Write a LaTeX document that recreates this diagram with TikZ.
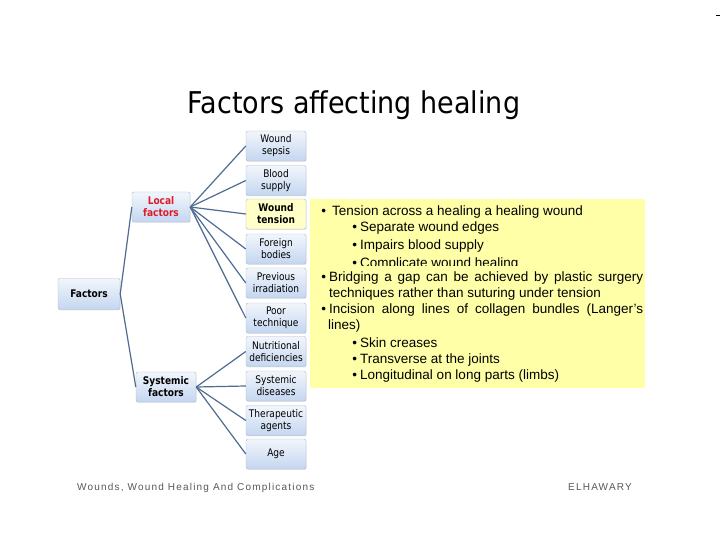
\documentclass[tikz,border=0pt]{standalone}
\usepackage{fontspec}
\setmainfont{DejaVu Sans}
\newfontfamily\titlefont[FakeStretch=0.9]{DejaVu Sans}
\newfontfamily\boxfont[FakeStretch=0.86]{DejaVu Sans}
\newfontfamily\notefont{Liberation Sans}
\newfontfamily\footfont[LetterSpace=12]{Liberation Sans}
\usetikzlibrary{shadows}
\definecolor{linkblue}{RGB}{79,108,146}
\definecolor{boxtop}{RGB}{242,246,252}
\definecolor{boxbottom}{RGB}{196,214,240}
\definecolor{boxline}{RGB}{168,184,208}
\definecolor{noteyellow}{RGB}{255,255,168}
\definecolor{tenseyellow}{RGB}{255,255,200}
\definecolor{localred}{RGB}{222,28,40}
\definecolor{footgray}{RGB}{88,88,88}
\newcommand\notebul{\llap{\textbullet\hspace{3pt}}}
\tikzset{
  factorbox/.style={rectangle,rounded corners=2pt,draw=boxline,
    top color=boxtop,bottom color=boxbottom,
    drop shadow={opacity=0.18,shadow xshift=0.7pt,shadow yshift=-0.9pt},
    minimum width=60pt,minimum height=30pt,inner sep=1pt,align=center,
    font=\boxfont\fontsize{10.5}{12}\selectfont},
  tensionbox/.style={factorbox,top color=tenseyellow,bottom color=tenseyellow},
  linkedge/.style={line width=1.2pt,linkblue},
  noteline/.style={anchor=base west,inner sep=0pt,
    font=\notefont\fontsize{13.5}{16}\selectfont},
  footline/.style={anchor=base west,inner sep=0pt,text=footgray,
    font=\footfont\fontsize{10}{12}\selectfont}
}
\begin{document}
\begin{tikzpicture}[x=1pt,y=-1pt]
  \useasboundingbox[fill=white] (0,0) rectangle (720,540);
  \fill (716,15) rectangle (720,16.2);

  \node[anchor=base,inner sep=0pt,font=\titlefont\fontsize{30}{34}\selectfont] (title) at (354,114) {Factors affecting healing};

  % note beside the tension box
  \node[rectangle,fill=noteyellow,minimum width=335pt,minimum height=189pt,anchor=north west,inner sep=0pt] (note) at (310,199) {};
  \node[noteline] (n1) at (332,215) {\llap{\textbullet\hspace{6pt}}Tension across a healing a healing wound};
  \node[noteline] (n2) at (360,232) {\notebul Separate wound edges};
  \node[noteline] (n3) at (360,249) {\notebul Impairs blood supply};
  \begin{scope}
    \clip (310,250) rectangle (645,265);
    \node[noteline] (n4) at (360,267) {\notebul Complicate wound healing};
  \end{scope}
  \node[noteline] (n5) at (329,281) {\notebul\makebox[314pt][s]{Bridging a gap can be achieved by plastic surgery}};
  \node[noteline] (n6) at (329,297) {techniques rather than suturing under tension};
  \node[noteline] (n7) at (329,313) {\notebul\makebox[314pt][s]{Incision along lines of collagen bundles (Langer’s}};
  \node[noteline] (n8) at (328,329) {lines)};
  \node[noteline] (n9) at (360,347) {\notebul Skin creases};
  \node[noteline] (n10) at (360,363) {\notebul Transverse at the joints};
  \node[noteline] (n11) at (360,379) {\notebul Longitudinal on long parts (limbs)};

  % hierarchy
  \node[factorbox,minimum width=62pt,minimum height=31pt] (factors) at (89,294) {\bfseries Factors};
  \node[factorbox,minimum width=58pt,text=localred] (local) at (161,207) {\bfseries Local\\\bfseries factors};
  \node[factorbox] (systemic) at (166,387) {\bfseries Systemic\\\bfseries factors};

  \node[factorbox] (sepsis) at (276,146) {Wound\\sepsis};
  \node[factorbox] (blood) at (276,180.5) {Blood\\supply};
  \node[tensionbox] (tension) at (276,214) {\bfseries Wound\\\bfseries tension};
  \node[factorbox] (foreign) at (276,249) {Foreign\\bodies};
  \node[factorbox] (irradiation) at (276,283) {Previous\\irradiation};
  \node[factorbox] (technique) at (276,318) {Poor\\technique};
  \node[factorbox] (nutrition) at (276,351.5) {Nutritional\\deficiencies};
  \node[factorbox] (disease) at (276,386) {Systemic\\diseases};
  \node[factorbox] (drugs) at (276,420.5) {Therapeutic\\agents};
  \node[factorbox] (age) at (276,454) {Age};

  \draw[linkedge] (factors.east) -- (local.west);
  \draw[linkedge] (factors.east) -- (systemic.west);
  \draw[linkedge] (local.east) -- (sepsis.west);
  \draw[linkedge] (local.east) -- (blood.west);
  \draw[linkedge] (local.east) -- (tension.west);
  \draw[linkedge] (local.east) -- (foreign.west);
  \draw[linkedge] (local.east) -- (irradiation.west);
  \draw[linkedge] (local.east) -- (technique.west);
  \draw[linkedge] (systemic.east) -- (nutrition.west);
  \draw[linkedge] (systemic.east) -- (disease.west);
  \draw[linkedge] (systemic.east) -- (drugs.west);
  \draw[linkedge] (systemic.east) -- (age.west);

  % footer
  \node[footline] (course) at (77,490) {Wounds, Wound Healing And Complications};
  \node[footline] (author) at (568,490) {ELHAWARY};
\end{tikzpicture}
\end{document}
